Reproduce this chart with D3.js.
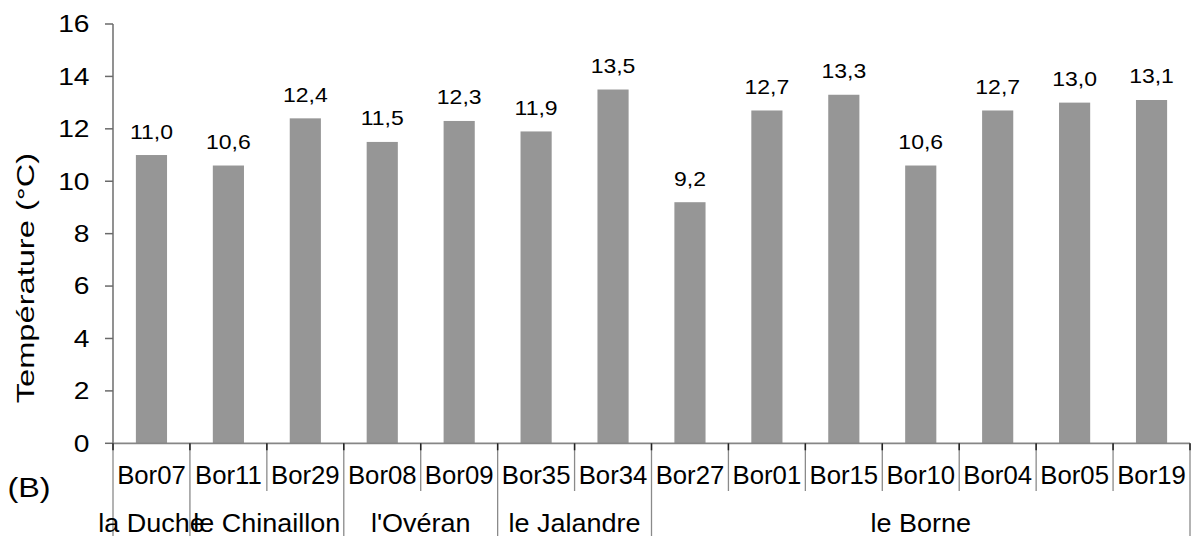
<!DOCTYPE html>
<html><head><meta charset="utf-8">
<script src="https://cdn.jsdelivr.net/npm/d3@7"></script>
<style>
html,body{margin:0;padding:0;background:#fff;}
svg text{font-family:"Liberation Sans",Arial,Helvetica,sans-serif;fill:#000;}
</style></head>
<body>
<svg id="chart" width="1195" height="536"></svg>
<script>
const stations = ["Bor07","Bor11","Bor29","Bor08","Bor09","Bor35","Bor34","Bor27","Bor01","Bor15","Bor10","Bor04","Bor05","Bor19"];
const temperatures = [11.0,10.6,12.4,11.5,12.3,11.9,13.5,9.2,12.7,13.3,10.6,12.7,13.0,13.1];
const rivers = ["la Duche","le Chinaillon","l'Ovéran","le Jalandre","le Borne"];
const riverCounts = [1,2,2,2,7];
const yTicks = [0,2,4,6,8,10,12,14,16];
const yTitle = "Température (°C)";
const panelLabel = "(B)";

const svg = d3.select("#chart");
const x = d3.scaleBand().domain(stations).range([113,1190]).paddingInner(0).paddingOuter(0);
const y = d3.scaleLinear().domain([0,16]).range([443.3,24]);
const bw = x.bandwidth();
const barW = bw*0.405;
const fmt = v => d3.format(".1f")(v).replace(".", ",");

// bars
svg.append("g").selectAll("rect").data(temperatures).join("rect")
  .attr("x",(d,i)=>x(stations[i])+bw/2-barW/2)
  .attr("y",d=>y(d))
  .attr("width",barW)
  .attr("height",d=>y(0)-y(d))
  .attr("fill","#969696");

// data labels
svg.append("g").selectAll("text").data(temperatures).join("text")
  .attr("transform",(d,i)=>`translate(${x(stations[i])+bw/2},${y(d)-16.5}) scale(1.15,1)`)
  .attr("text-anchor","middle")
  .attr("font-size","20px")
  .text(d=>fmt(d));

// y axis
const yAxis = svg.append("g");
yAxis.append("line").attr("x1",113).attr("x2",113).attr("y1",y(16)).attr("y2",y(0))
  .attr("stroke","#868686").attr("stroke-width",1.8);
yAxis.selectAll("line.tk").data(yTicks).join("line").attr("class","tk")
  .attr("x1",105).attr("x2",113).attr("y1",d=>y(d)).attr("y2",d=>y(d))
  .attr("stroke","#6a6a6a").attr("stroke-width",1.5);
yAxis.selectAll("text").data(yTicks).join("text")
  .attr("transform",d=>`translate(89.5,${y(d)+8.3}) scale(1.2,1)`)
  .attr("text-anchor","end").attr("font-size","23.5px")
  .text(d=>d);

// y title
svg.append("text")
  .attr("transform","translate(33.5,278) rotate(-90) scale(1.36,1)")
  .attr("text-anchor","middle").attr("font-size","24px")
  .text(yTitle);

// x axis line
svg.append("line").attr("x1",113).attr("x2",1190).attr("y1",y(0)).attr("y2",y(0))
  .attr("stroke","#868686").attr("stroke-width",1.8);

// group boundaries
const bounds = [0];
riverCounts.forEach(c=>bounds.push(bounds[bounds.length-1]+c));
const boundaryIdx = new Set(bounds);
const sepIdx = d3.range(stations.length+1);
const xAt = i => 113 + i*bw;
svg.append("g").selectAll("line").data(sepIdx).join("line")
  .attr("x1",xAt).attr("x2",xAt)
  .attr("y1",y(0)).attr("y2",i=>boundaryIdx.has(i)?536:491)
  .attr("stroke","#8a8a8a").attr("stroke-width",1.3);
svg.append("g").selectAll("line").data(sepIdx).join("line")
  .attr("x1",xAt).attr("x2",xAt)
  .attr("y1",y(0)).attr("y2",y(0)+7)
  .attr("stroke","#222").attr("stroke-width",1.5);

// station labels
svg.append("g").selectAll("text").data(stations).join("text")
  .attr("transform",d=>`translate(${x(d)+bw/2},484) scale(1.03,1)`)
  .attr("text-anchor","middle").attr("font-size","25px")
  .text(d=>d);

// river labels
svg.append("g").selectAll("text").data(rivers).join("text")
  .attr("transform",(d,i)=>`translate(${(xAt(bounds[i])+xAt(bounds[i+1]))/2},531.5) scale(1.08,1)`)
  .attr("text-anchor","middle").attr("font-size","25px")
  .text(d=>d);

// panel label
svg.append("text")
  .attr("transform","translate(29,497) scale(1.2,1)")
  .attr("text-anchor","middle").attr("font-size","27px")
  .text(panelLabel);
</script>
</body></html>
